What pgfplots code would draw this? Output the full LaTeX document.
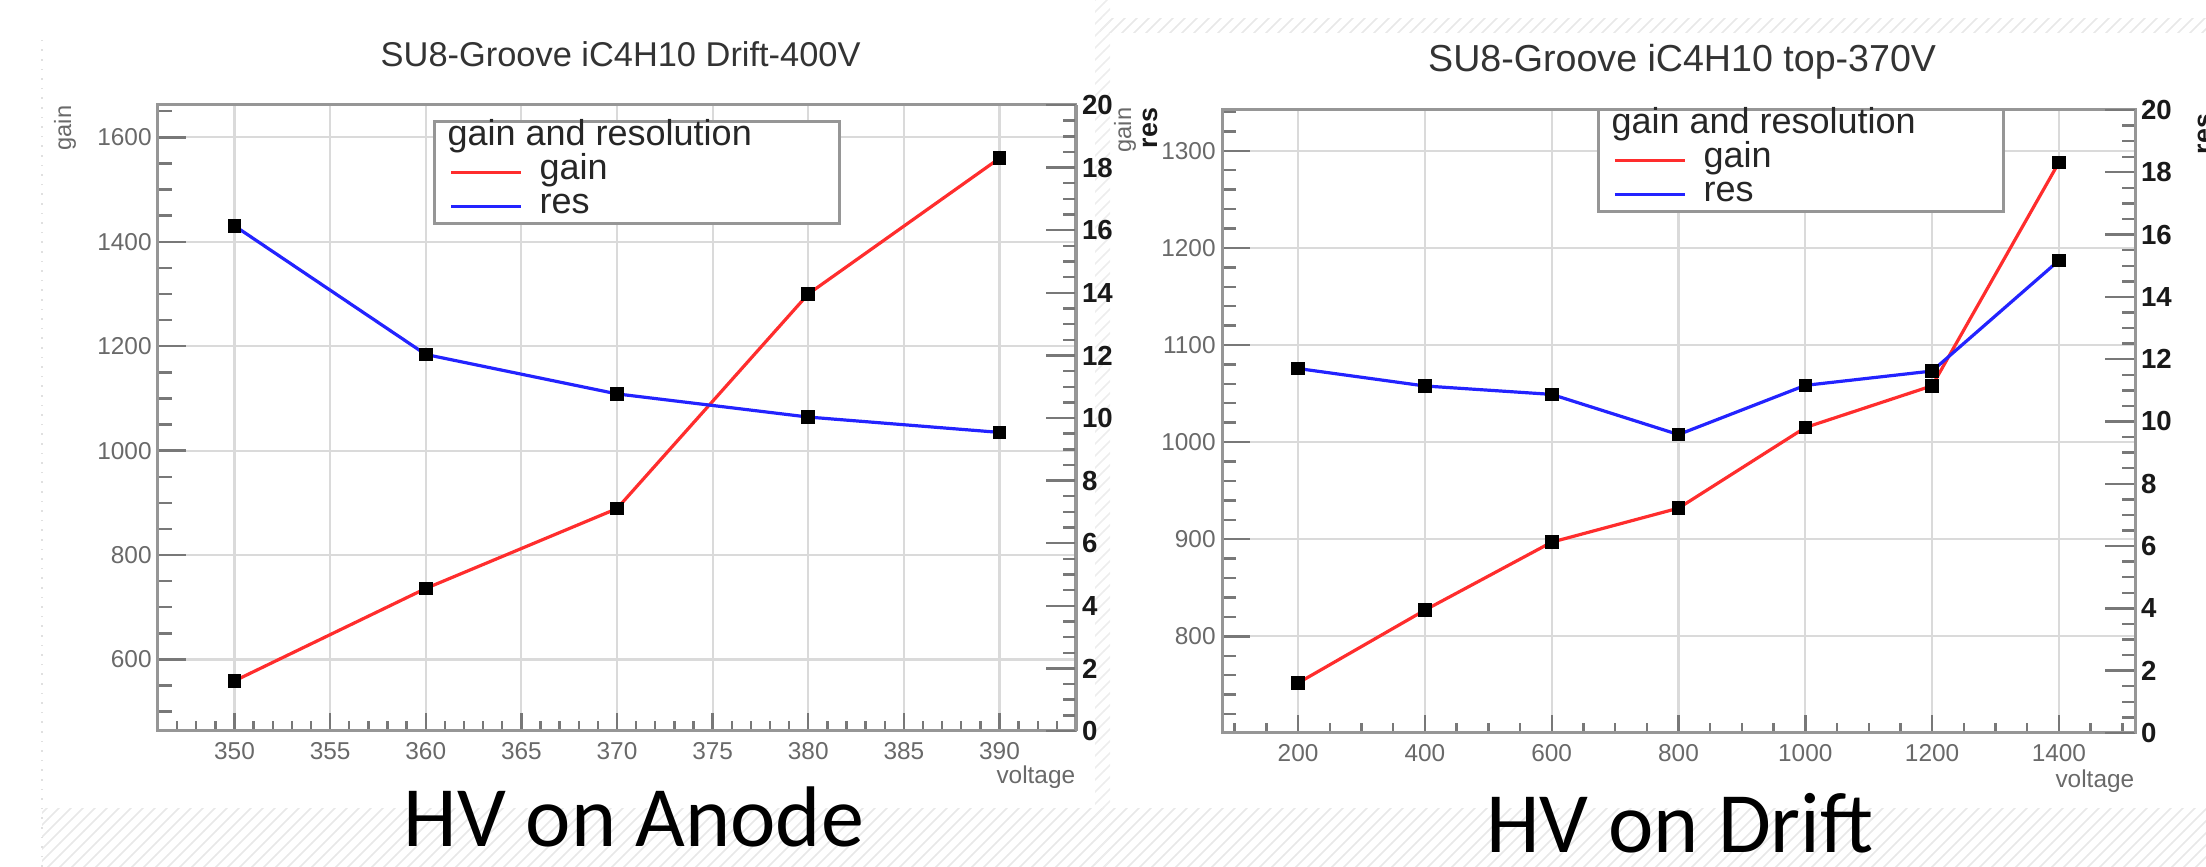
\documentclass[border=0pt]{standalone}
\usepackage{fontspec}
\setmainfont{Liberation Sans}
\newfontfamily\capfont{Carlito}
\usepackage{pgfplots}
\usepackage{pgfplotstable}
\pgfplotsset{compat=1.18}
\usetikzlibrary{patterns}

\definecolor{rred}{RGB}{255,45,45}
\definecolor{rblue}{RGB}{35,35,255}
\definecolor{framec}{RGB}{150,150,150}
\definecolor{gridc}{RGB}{218,218,218}
\definecolor{tickc}{RGB}{120,120,120}
\definecolor{labc}{RGB}{105,105,105}

% anode scan (drift fixed at 400 V)
\pgfplotstableread{
v gain res
350 559 16.14
360 736 12.03
370 889 10.77
380 1300 10.03
390 1560 9.54
}\anode
% drift scan (top fixed at 370 V)
\pgfplotstableread{
v gain res
200 752 11.70
400 827 11.14
600 897 10.87
800 932 9.58
1000 1015 11.16
1200 1058 11.62
1400 1288 15.17
}\drift

\pgfplotsset{
  gainline/.style={rred, line width=0.8pt, mark=square*, mark size=1.3pt,
    mark options={draw=black, fill=black}},
  resline/.style={rblue, line width=0.8pt, mark=square*, mark size=1.3pt,
    mark options={draw=black, fill=black}},
  rootframe/.style={
    scale only axis,
    axis line style={framec, line width=0.75pt},
    tick align=inside,
    tick style={tickc, line width=0.6pt},
    xtick style={/pgfplots/major tick length=4.5pt, /pgfplots/minor tick length=2.5pt},
    ytick style={/pgfplots/major tick length=7pt, /pgfplots/minor tick length=3.5pt},
    xtick pos=left, ytick pos=left,
    grid=major, major grid style={gridc, line width=0.55pt},
    /pgf/number format/assume math mode=true,
    /pgf/number format/1000 sep={},
    ticklabel style={font=\fontsize{6.1}{7}\selectfont, text=labc, inner sep=0pt},
    xticklabel style={yshift=-2.6pt},
    yticklabel style={xshift=-1.4pt},
    xlabel={voltage}, ylabel={gain},
    every axis x label/.style={at={(axis description cs:1,0)}, anchor=north east,
      inner sep=0pt, font=\fontsize{6.1}{7}\selectfont, text=labc},
    every axis y label/.style={anchor=east, rotate=90, inner sep=0pt,
      font=\fontsize{5.9}{7}\selectfont, text=labc},
    every axis title/.style={anchor=base, inner sep=0pt, text=black!80},
  },
  rootres/.style={
    scale only axis,
    axis x line=none, axis y line*=right,
    axis line style={framec, line width=0.75pt},
    tick align=inside,
    tick style={tickc, line width=0.6pt},
    major tick length=7.5pt, minor tick length=3.25pt,
    ymin=0, ymax=20, ytick={0,2,...,20}, minor y tick num=3,
    /pgf/number format/assume math mode=true,
    yticklabel style={font=\bfseries\fontsize{6.9}{8}\selectfont, text=black!90,
      inner sep=0pt, xshift=1.3pt},
    ylabel={res},
    every axis y label/.style={anchor=east, rotate=90, inner sep=0pt,
      font=\bfseries\fontsize{6.7}{8}\selectfont, text=black!90},
    legend style={anchor=north west, draw=framec, line width=0.7pt, fill=white,
      inner xsep=3.75pt, inner ysep=0pt, row sep=0pt, column sep=4.25pt,
      font=\fontsize{9}{10}\selectfont, text=black!85,
      nodes={inner sep=0pt, text height=6pt, text depth=2.5pt}},
    legend cell align=left,
    legend image code/.code={\draw[#1] (0pt,0pt) -- (17.5pt,0pt);},
  },
}

\begin{document}
\begin{tikzpicture}
\path[use as bounding box] (0,0) rectangle (551.5pt,216.75pt);
% faint slide background
\fill[pattern=north east lines, pattern color=black!9] (10.5pt,0) rectangle (551.5pt,14.5pt);
\fill[pattern=north east lines, pattern color=black!9] (275pt,208.5pt) rectangle (551.5pt,212pt);
\fill[pattern=north east lines, pattern color=black!7] (273.75pt,0) rectangle (277.5pt,216.75pt);
\draw[black!12, dotted, line width=0.4pt] (10.5pt,0) -- (10.5pt,208.5pt);

% ---------- left: HV on anode ----------
\begin{axis}[rootframe,
  at={(39.5pt,34pt)}, anchor=south west, width=229.5pt, height=156.5pt,
  xmin=346, xmax=394, ymin=463, ymax=1662,
  xtick={345,350,...,395}, minor x tick num=4,
  ytick={400,600,...,1800}, minor y tick num=3,
  title={SU8-Groove iC4H10 Drift-400V},
  title style={at={(axis description cs:0.504,1)}, yshift=9.65pt,
    font=\fontsize{8.6}{10}\selectfont},
  ylabel style={at={(axis description cs:-0.1013,1)}},
  xlabel style={yshift=-8.5pt},
]
\addplot[gainline] table[x=v,y=gain]{\anode};
\end{axis}
\begin{axis}[rootres,
  at={(39.5pt,34pt)}, anchor=south west, width=229.5pt, height=156.5pt,
  xmin=346, xmax=394,
  ylabel style={at={(axis description cs:1.0806,0.9968)}},
  legend style={at={(axis description cs:0.2996,0.976)}},
]
\addlegendimage{empty legend}
\addlegendentry{\makebox[71.25pt][l]{\hspace*{-23pt}gain and resolution}}
\addlegendimage{gainline}
\addlegendentry{gain}
\addplot[resline] table[x=v,y=res]{\anode};
\addlegendentry{res}
\end{axis}

% ---------- right: HV on drift ----------
\begin{axis}[rootframe,
  at={(305.5pt,33.5pt)}, anchor=south west, width=228.25pt, height=155.75pt,
  xmin=80, xmax=1520, ymin=700.5, ymax=1342,
  xtick={0,200,...,1600}, minor x tick num=3,
  ytick={600,700,...,1400}, minor y tick num=4,
  title={SU8-Groove iC4H10 top-370V},
  title style={at={(axis description cs:0.504,1)}, yshift=9.5pt,
    font=\fontsize{9.4}{11}\selectfont},
  ylabel style={at={(axis description cs:-0.1062,1.0048)}},
  xlabel style={yshift=-9pt},
]
\addplot[gainline] table[x=v,y=gain]{\drift};
\end{axis}
\begin{axis}[rootres,
  at={(305.5pt,33.5pt)}, anchor=south west, width=228.25pt, height=155.75pt,
  xmin=80, xmax=1520,
  ylabel style={at={(axis description cs:1.0767,0.9952)}},
  legend style={at={(axis description cs:0.4107,1.0032)}},
]
\addlegendimage{empty legend}
\addlegendentry{\makebox[71.25pt][l]{\hspace*{-23pt}gain and resolution}}
\addlegendimage{gainline}
\addlegendentry{gain}
\addplot[resline] table[x=v,y=res]{\drift};
\addlegendentry{res}
\end{axis}

% slide captions
\node[font=\capfont\fontsize{21.5}{24}\selectfont, anchor=base] at (158.5pt,5.25pt) {HV on Anode};
\node[font=\capfont\fontsize{21.5}{24}\selectfont, anchor=base] at (420pt,3.5pt) {HV on Drift};
\end{tikzpicture}
\end{document}
